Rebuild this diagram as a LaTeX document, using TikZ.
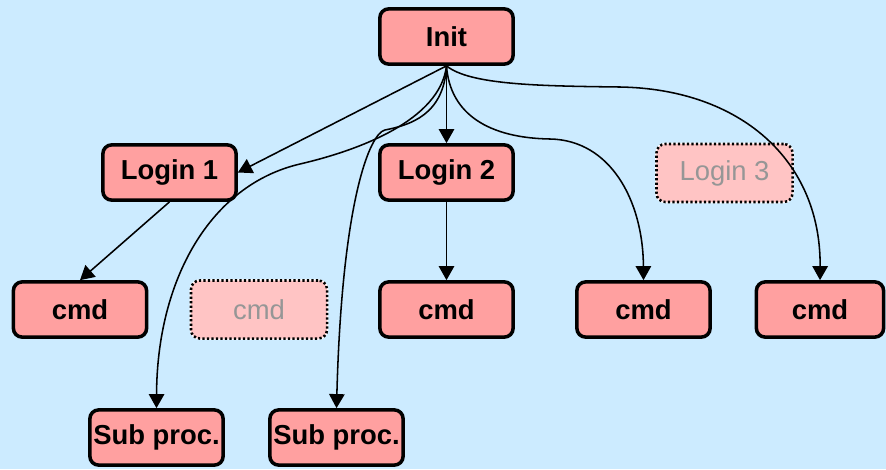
\documentclass[tikz,border=0pt]{standalone}
\usepackage{fontspec}
\setmainfont{Liberation Sans}
\usepackage{xcolor}
\usetikzlibrary{arrows.meta}
\definecolor{bgblue}{RGB}{204,235,255}
\definecolor{boxpink}{RGB}{255,160,160}
\definecolor{ghostpink}{RGB}{255,196,196}
\definecolor{ghosttext}{RGB}{150,150,150}

\begin{document}
\begin{tikzpicture}[x=0.025cm, y=-0.025cm, line width=1.1pt,
    >={Triangle[length=10pt, width=11pt]},
    box/.style={draw, line width=2.5pt, rounded corners=0.22cm, fill=boxpink,
      minimum width=3.33cm, minimum height=1.38cm, inner sep=0pt,
      font=\fontsize{19.5}{22}\selectfont\bfseries},
    ghost/.style={draw, line width=1.8pt, rounded corners=0.22cm, fill=ghostpink,
      dash pattern=on 1.6pt off 1.6pt, preaction={draw=white, solid, line width=1.8pt},
      minimum width=3.4cm, minimum height=1.45cm, inner sep=0pt, text=ghosttext,
      font=\fontsize{19.5}{22}\selectfont}]
      \fill[bgblue] (0,0) rectangle (886,469);
      \useasboundingbox (0,0) rectangle (886,469);

      \node[box]   (I)  at (446.5, 36.5)  {Init};
      \node[box]   (L1) at (169.5, 172.5) {Login 1};
      \node[box]   (L2) at (446.5, 172.5) {Login 2};
      \node[ghost] (L3) at (724.5, 173)   {Login 3};

      \node[box]   (C1) at (80,    309.5) {cmd};
      \node[ghost] (C2) at (259,   309.5) {cmd};
      \node[box]   (C3) at (446.5, 309.5) {cmd};
      \node[box]   (C4) at (643.5, 309.5) {cmd};
      \node[box, minimum width=3.18cm] (C5) at (820, 309.5) {cmd};

      \node[box]   (S1) at (156.5, 437.5) {Sub proc.};
      \node[box]   (S2) at (336.5, 437.5) {Sub proc.};

      \draw[->] (I.south) -- (L1.east);
      \draw[->] (I.south) -- (L2.north);
      \draw[->] (L1.south) -- (C1.north);
      \draw[->] (L2.south) -- (C3.north);

      \draw[->] (I.south) .. controls (450,115) and (490,138) .. (550,139)
                          .. controls (610,140) and (643,200) .. (C4.north);
      \draw[->] (I.south) .. controls (470,85) and (540,86) .. (620,87)
                          .. controls (740,89) and (821,160) .. (C5.north);
      \draw[->] (I.south) .. controls (440,120) and (360,150) .. (300,164)
                          .. controls (210,185) and (157,280) .. (S1.north);
      \draw[->] (I.south) .. controls (444,115) and (410,125) .. (385,130)
                          .. controls (370,133) and (342,200) .. (S2.north);
\end{tikzpicture}
\end{document}
